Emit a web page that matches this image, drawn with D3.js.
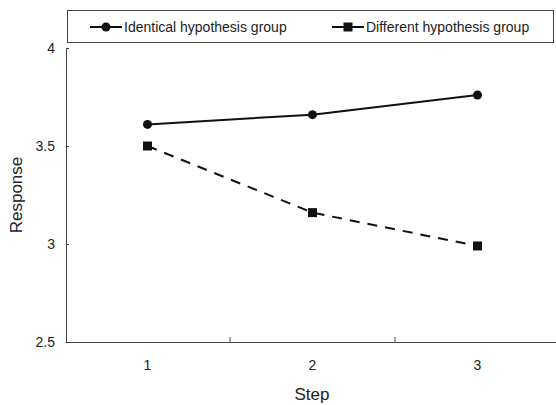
<!DOCTYPE html>
<html>
<head>
<meta charset="utf-8">
<script src="https://cdn.jsdelivr.net/npm/d3@7"></script>
<style>
  body { margin: 0; background: #fff; }
  svg { display: block; font-family: "Liberation Sans", Arial, sans-serif; }
</style>
</head>
<body>
<svg id="chart" width="556" height="405"></svg>
<script>
// data
var steps = ["1", "2", "3"];
var identical = [3.61, 3.66, 3.76];
var different = [3.50, 3.16, 2.99];
var yTicks = [2.5, 3, 3.5, 4];
var seriesNames = ["Identical hypothesis group", "Different hypothesis group"];

var svg = d3.select("#chart");

var x = d3.scaleBand()
    .domain(steps)
    .range([65, 560]);

var y = d3.scaleLinear()
    .domain([2.5, 4])
    .range([342, 48]);

// axes
var xAxis = svg.append("g")
    .attr("transform", "translate(0,342)")
    .call(d3.axisBottom(x).tickSize(0).tickPadding(18));
xAxis.select(".domain").attr("stroke", "#444");
xAxis.selectAll("text").attr("font-size", 14).attr("fill", "#222");

// tick marks between categories
svg.selectAll(".xsep")
    .data(steps.slice(1))
    .enter()
    .append("line")
    .attr("class", "xsep")
    .attr("x1", function(d){ return x(d); })
    .attr("x2", function(d){ return x(d); })
    .attr("y1", 342)
    .attr("y2", 337)
    .attr("stroke", "#444");

var yAxis = svg.append("g")
    .attr("transform", "translate(66,0)")
    .call(d3.axisLeft(y).tickValues(yTicks).tickSize(-3).tickPadding(11)
        .tickFormat(function(d){ return d; }));
yAxis.select(".domain").attr("stroke", "#444");
yAxis.selectAll(".tick line").attr("stroke", "#444");
yAxis.selectAll("text").attr("font-size", 14).attr("fill", "#222");

// axis titles
svg.append("text")
    .attr("x", 312)
    .attr("y", 400)
    .attr("text-anchor", "middle")
    .attr("font-size", 17)
    .attr("fill", "#222")
    .text("Step");

svg.append("text")
    .attr("transform", "translate(22,195) rotate(-90)")
    .attr("text-anchor", "middle")
    .attr("font-size", 17)
    .attr("fill", "#222")
    .text("Response");

// lines
var line = d3.line()
    .x(function(d, i){ return x(steps[i]) + x.bandwidth() / 2; })
    .y(function(d){ return y(d); });

svg.append("path")
    .datum(identical)
    .attr("d", line)
    .attr("fill", "none")
    .attr("stroke", "#111")
    .attr("stroke-width", 2);

svg.append("path")
    .datum(different)
    .attr("d", line)
    .attr("fill", "none")
    .attr("stroke", "#111")
    .attr("stroke-width", 2)
    .attr("stroke-dasharray", "10,8");

svg.selectAll(".dot")
    .data(identical)
    .enter()
    .append("circle")
    .attr("class", "dot")
    .attr("cx", function(d, i){ return x(steps[i]) + x.bandwidth() / 2; })
    .attr("cy", function(d){ return y(d); })
    .attr("r", 4.5)
    .attr("fill", "#111");

svg.selectAll(".sq")
    .data(different)
    .enter()
    .append("rect")
    .attr("class", "sq")
    .attr("x", function(d, i){ return x(steps[i]) + x.bandwidth() / 2 - 4.5; })
    .attr("y", function(d){ return y(d) - 4.5; })
    .attr("width", 9)
    .attr("height", 9)
    .attr("fill", "#111");

// legend
var legend = svg.append("g");
legend.append("rect")
    .attr("x", 67.5)
    .attr("y", 10.5)
    .attr("width", 486)
    .attr("height", 32)
    .attr("fill", "#fff")
    .attr("stroke", "#444");

var legendX = [90, 332];
legendX.forEach(function(lx, i){
    legend.append("line")
        .attr("x1", lx).attr("x2", lx + 32)
        .attr("y1", 27).attr("y2", 27)
        .attr("stroke", "#111")
        .attr("stroke-width", 2);
    if(i == 0){
        legend.append("circle")
            .attr("cx", lx + 16).attr("cy", 27).attr("r", 4.5)
            .attr("fill", "#111");
    }
    else{
        legend.append("rect")
            .attr("x", lx + 11.5).attr("y", 22.5)
            .attr("width", 9).attr("height", 9)
            .attr("fill", "#111");
    }
    legend.append("text")
        .attr("x", lx + 34)
        .attr("y", 32)
        .attr("font-size", 14)
        .attr("fill", "#222")
        .text(seriesNames[i]);
});
</script>
</body>
</html>
